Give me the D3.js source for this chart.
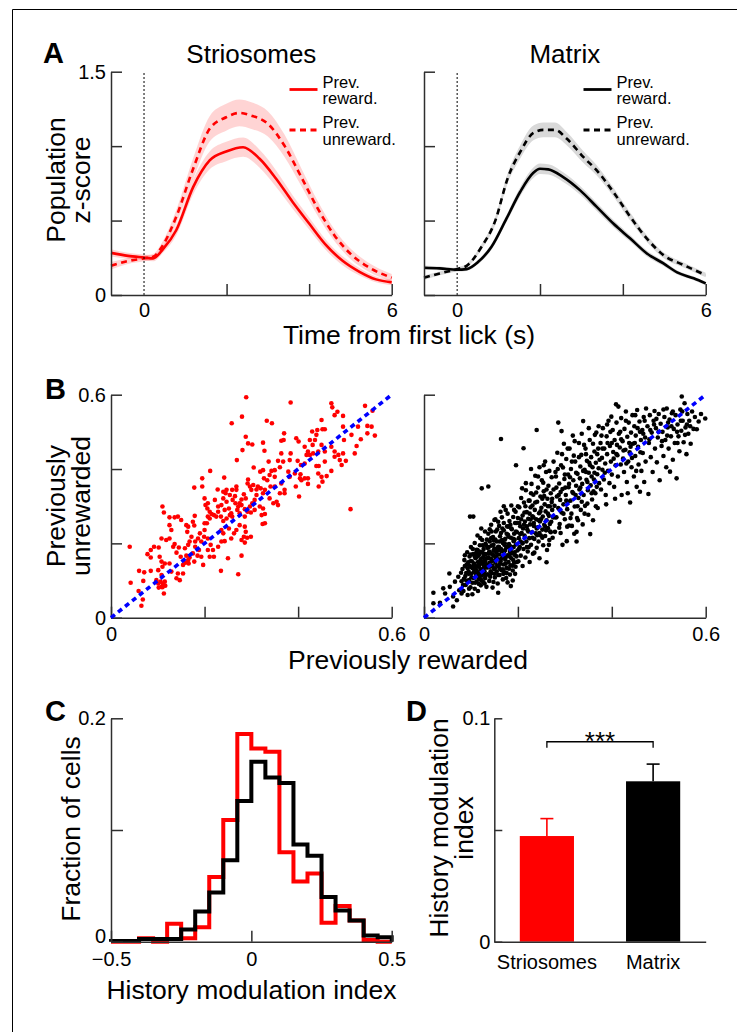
<!DOCTYPE html>
<html>
<head>
<meta charset="utf-8">
<script src="https://cdn.jsdelivr.net/npm/d3@7.9.0/dist/d3.min.js"></script>
<style>
  body { margin: 0; background: #fff; }
  svg { display: block; }
</style>
</head>
<body>
<svg id="fig"></svg>
<script>
// ---------- data ----------
const timeDomain = [-0.8, 6];
const timeTicks = [0, 2, 4, 6];
const zTicks = [0, 0.5, 1, 1.5];

// Striosomes, population z-score
const strioRewT = [-0.8, -0.39, 0, 0.22, 0.46, 0.78, 1.19, 1.59, 1.99, 2.4, 2.8, 3.2, 3.6, 4.0, 4.41, 4.81, 5.22, 5.62, 6.0];
const strioRewMean = [0.283, 0.263, 0.252, 0.246, 0.308, 0.435, 0.725, 0.904, 0.964, 0.993, 0.915, 0.781, 0.625, 0.48, 0.335, 0.23, 0.156, 0.105, 0.085];
const strioRewSem = [0.025, 0.02, 0.02, 0.02, 0.025, 0.035, 0.05, 0.06, 0.065, 0.065, 0.06, 0.055, 0.045, 0.04, 0.035, 0.03, 0.025, 0.02, 0.02];

const strioUnrT = [-0.8, -0.39, 0, 0.22, 0.46, 0.78, 1.19, 1.59, 1.99, 2.31, 2.6, 3.0, 3.4, 3.81, 4.21, 4.61, 5.02, 5.42, 6.0];
const strioUnrMean = [0.196, 0.228, 0.246, 0.257, 0.335, 0.525, 0.848, 1.116, 1.194, 1.223, 1.205, 1.15, 1.004, 0.792, 0.58, 0.402, 0.272, 0.19, 0.116];
const strioUnrSem = [0.025, 0.02, 0.02, 0.02, 0.03, 0.045, 0.07, 0.085, 0.09, 0.09, 0.09, 0.085, 0.075, 0.06, 0.05, 0.04, 0.035, 0.03, 0.025];

// Matrix, population z-score
const matRewT = [-0.8, -0.42, 0, 0.23, 0.51, 0.83, 1.19, 1.52, 1.84, 2.0, 2.2, 2.56, 2.97, 3.37, 3.77, 4.18, 4.58, 4.98, 5.31, 5.71, 6.0];
const matRewMean = [0.183, 0.179, 0.17, 0.174, 0.223, 0.324, 0.513, 0.692, 0.821, 0.848, 0.844, 0.792, 0.703, 0.592, 0.48, 0.379, 0.279, 0.212, 0.152, 0.112, 0.078];
const matRewSem = [0.015, 0.012, 0.012, 0.012, 0.015, 0.02, 0.025, 0.03, 0.035, 0.035, 0.035, 0.033, 0.03, 0.028, 0.025, 0.022, 0.02, 0.017, 0.015, 0.013, 0.012];

const matUnrT = [-0.8, -0.42, 0, 0.23, 0.59, 0.91, 1.23, 1.52, 1.84, 2.08, 2.36, 2.65, 3.05, 3.37, 3.77, 4.18, 4.58, 4.98, 5.47, 6.0];
const matUnrMean = [0.116, 0.145, 0.174, 0.196, 0.324, 0.491, 0.792, 0.96, 1.089, 1.109, 1.109, 1.049, 0.926, 0.837, 0.692, 0.525, 0.379, 0.268, 0.201, 0.134];
const matUnrSem = [0.015, 0.013, 0.013, 0.013, 0.018, 0.025, 0.035, 0.045, 0.05, 0.05, 0.05, 0.045, 0.04, 0.035, 0.03, 0.027, 0.023, 0.02, 0.017, 0.015];

const legendLabels = [["Prev.", "reward."], ["Prev.", "unreward."]];

// B: previously rewarded (x) vs previously unrewarded (y)
const scatterTicks = [0, 0.2, 0.4, 0.6];
const strioScatter = [[0.289,0.593],[0.384,0.579],[0.471,0.577],[0.473,0.566],[0.543,0.570],[0.559,0.557],[0.484,0.554],[0.478,0.545],[0.496,0.543],[0.280,0.541],[0.333,0.530],[0.344,0.523],[0.258,0.523],[0.450,0.532],[0.452,0.507],[0.457,0.507],[0.496,0.514],[0.528,0.514],[0.548,0.516],[0.557,0.514],[0.548,0.496],[0.564,0.490],[0.370,0.496],[0.364,0.476],[0.369,0.478],[0.396,0.483],[0.401,0.474],[0.430,0.501],[0.441,0.505],[0.439,0.492],[0.436,0.478],[0.425,0.478],[0.431,0.465],[0.414,0.460],[0.421,0.447],[0.418,0.438],[0.425,0.438],[0.432,0.442],[0.443,0.447],[0.450,0.465],[0.457,0.447],[0.471,0.460],[0.478,0.447],[0.486,0.438],[0.496,0.442],[0.489,0.424],[0.502,0.422],[0.525,0.462],[0.534,0.480],[0.514,0.492],[0.498,0.478],[0.288,0.487],[0.293,0.469],[0.302,0.466],[0.281,0.451],[0.325,0.471],[0.328,0.449],[0.269,0.424],[0.364,0.442],[0.384,0.442],[0.382,0.424],[0.357,0.422],[0.368,0.420],[0.337,0.420],[0.399,0.422],[0.406,0.411],[0.414,0.415],[0.439,0.408],[0.444,0.408],[0.457,0.420],[0.471,0.395],[0.461,0.381],[0.452,0.366],[0.444,0.353],[0.421,0.360],[0.414,0.375],[0.404,0.375],[0.402,0.326],[0.395,0.353],[0.382,0.379],[0.379,0.393],[0.361,0.405],[0.350,0.397],[0.343,0.395],[0.339,0.384],[0.334,0.370],[0.327,0.375],[0.319,0.393],[0.325,0.397],[0.305,0.404],[0.293,0.372],[0.292,0.361],[0.297,0.353],[0.300,0.344],[0.311,0.345],[0.320,0.348],[0.325,0.335],[0.329,0.344],[0.341,0.353],[0.350,0.353],[0.361,0.335],[0.371,0.335],[0.354,0.312],[0.347,0.308],[0.357,0.303],[0.307,0.317],[0.302,0.308],[0.297,0.299],[0.288,0.321],[0.284,0.332],[0.279,0.318],[0.275,0.308],[0.272,0.299],[0.286,0.292],[0.292,0.285],[0.299,0.283],[0.307,0.290],[0.318,0.299],[0.325,0.294],[0.329,0.279],[0.329,0.254],[0.324,0.252],[0.286,0.272],[0.286,0.245],[0.288,0.231],[0.284,0.218],[0.291,0.215],[0.299,0.218],[0.279,0.209],[0.286,0.202],[0.279,0.167],[0.272,0.117],[0.265,0.327],[0.268,0.353],[0.266,0.308],[0.260,0.317],[0.254,0.330],[0.245,0.335],[0.240,0.321],[0.236,0.303],[0.243,0.290],[0.252,0.294],[0.254,0.276],[0.259,0.272],[0.247,0.267],[0.240,0.260],[0.235,0.272],[0.229,0.285],[0.225,0.272],[0.220,0.276],[0.215,0.279],[0.211,0.267],[0.206,0.294],[0.202,0.303],[0.207,0.308],[0.200,0.321],[0.195,0.353],[0.195,0.375],[0.212,0.395],[0.242,0.377],[0.240,0.339],[0.228,0.345],[0.207,0.272],[0.205,0.254],[0.200,0.236],[0.199,0.218],[0.190,0.227],[0.186,0.213],[0.180,0.205],[0.180,0.191],[0.188,0.182],[0.185,0.167],[0.178,0.151],[0.178,0.248],[0.175,0.258],[0.179,0.274],[0.178,0.350],[0.161,0.249],[0.165,0.245],[0.163,0.231],[0.172,0.218],[0.168,0.205],[0.165,0.196],[0.158,0.187],[0.161,0.167],[0.165,0.155],[0.166,0.146],[0.159,0.148],[0.154,0.142],[0.149,0.164],[0.145,0.189],[0.140,0.175],[0.136,0.198],[0.133,0.191],[0.125,0.213],[0.129,0.236],[0.125,0.249],[0.113,0.283],[0.110,0.299],[0.125,0.270],[0.136,0.270],[0.143,0.272],[0.150,0.263],[0.118,0.209],[0.108,0.213],[0.102,0.189],[0.092,0.191],[0.085,0.182],[0.078,0.171],[0.085,0.162],[0.104,0.164],[0.108,0.151],[0.115,0.146],[0.110,0.137],[0.101,0.128],[0.108,0.115],[0.106,0.097],[0.101,0.092],[0.108,0.083],[0.111,0.091],[0.113,0.065],[0.097,0.101],[0.085,0.126],[0.071,0.122],[0.060,0.126],[0.069,0.099],[0.042,0.094],[0.059,0.072],[0.068,0.049],[0.065,0.032],[0.040,0.191],[0.213,0.196],[0.207,0.182],[0.218,0.182],[0.220,0.164],[0.229,0.191],[0.236,0.205],[0.243,0.206],[0.240,0.227],[0.236,0.236],[0.257,0.213],[0.263,0.227],[0.252,0.240],[0.268,0.236],[0.275,0.249],[0.235,0.126],[0.250,0.160],[0.193,0.164],[0.197,0.142],[0.207,0.213],[0.211,0.164],[0.143,0.119],[0.140,0.106],[0.147,0.101],[0.154,0.119],[0.125,0.146],[0.129,0.124],[0.168,0.162],[0.175,0.173],[0.193,0.205],[0.200,0.254],[0.211,0.285],[0.222,0.317],[0.229,0.299],[0.247,0.312],[0.257,0.281],[0.270,0.290],[0.275,0.281],[0.279,0.303],[0.268,0.344],[0.259,0.344],[0.247,0.344],[0.322,0.276],[0.339,0.321],[0.311,0.330],[0.314,0.353],[0.304,0.357],[0.350,0.379],[0.364,0.361],[0.371,0.344],[0.393,0.388],[0.405,0.386],[0.407,0.370],[0.421,0.375],[0.450,0.379],[0.443,0.388],[0.512,0.292],[0.478,0.433],[0.493,0.411],[0.521,0.442],[0.110,0.082],[0.115,0.097],[0.116,0.086],[0.102,0.081]];

const matrixScatter = [
  [0.020,0.067],[0.020,0.039],[0.041,0.079],[0.054,0.119],[0.062,0.030],[0.034,0.040],[0.045,0.065],[0.055,0.083],[0.066,0.097],[0.062,0.057],[0.073,0.110],[0.075,0.074],[0.070,0.047],[0.080,0.065],
  [0.080,0.098],[0.082,0.131],[0.084,0.072],[0.086,0.155],[0.088,0.112],[0.089,0.088],[0.091,0.143],[0.092,0.176],[0.093,0.061],[0.095,0.124],[0.096,0.101],[0.097,0.165],[0.098,0.139],[0.099,0.082],[0.100,0.190],[0.101,0.118],[0.102,0.152],[0.103,0.094],[0.104,0.133],[0.105,0.171],[0.106,0.107],[0.107,0.146],[0.108,0.078],[0.108,0.201],[0.109,0.126],[0.110,0.160],[0.111,0.115],[0.112,0.183],[0.112,0.097],[0.113,0.138],[0.114,0.221],[0.115,0.150],[0.115,0.072],[0.116,0.122],[0.117,0.169],[0.118,0.104],[0.118,0.141],[0.119,0.195],[0.120,0.131],[0.121,0.087],[0.121,0.158],[0.122,0.176],[0.123,0.113],[0.124,0.147],[0.124,0.209],[0.125,0.128],[0.126,0.096],[0.126,0.163],[0.127,0.185],[0.128,0.119],[0.128,0.140],[0.129,0.154],[0.130,0.106],[0.130,0.232],[0.131,0.171],[0.132,0.135],[0.132,0.195],[0.133,0.083],[0.098,0.272],[0.105,0.272],[0.123,0.348],[0.137,0.353],[0.090,0.120],[0.094,0.149],[0.100,0.170],[0.103,0.063],[0.110,0.138],[0.114,0.182],[0.117,0.091],[0.120,0.214],[0.125,0.175],[0.127,0.150],[0.129,0.124],[0.131,0.199],[0.085,0.105],[0.087,0.139],[0.106,0.123],[0.111,0.174],[0.116,0.138],[0.119,0.116],[0.122,0.240],[0.129,0.092],[0.133,0.160],
  [0.134,0.142],[0.135,0.188],[0.136,0.117],[0.137,0.226],[0.138,0.161],[0.139,0.099],[0.140,0.205],[0.141,0.137],[0.142,0.173],[0.143,0.250],[0.144,0.120],[0.144,0.194],[0.145,0.153],[0.146,0.081],[0.147,0.217],[0.148,0.167],[0.149,0.131],[0.150,0.186],[0.150,0.263],[0.151,0.108],[0.152,0.148],[0.153,0.232],[0.154,0.175],[0.155,0.124],[0.155,0.205],[0.156,0.158],[0.157,0.092],[0.158,0.191],[0.159,0.139],[0.160,0.247],[0.160,0.170],[0.161,0.115],[0.162,0.219],[0.163,0.152],[0.164,0.481],[0.164,0.185],[0.165,0.128],[0.166,0.270],[0.167,0.163],[0.168,0.201],[0.168,0.103],[0.169,0.143],[0.170,0.235],[0.171,0.178],[0.172,0.122],[0.173,0.212],[0.173,0.156],[0.174,0.290],[0.175,0.191],[0.176,0.134],[0.177,0.246],[0.178,0.168],[0.178,0.095],[0.179,0.223],[0.180,0.150],[0.181,0.198],[0.182,0.260],[0.183,0.177],[0.183,0.116],[0.184,0.141],[0.185,0.215],[0.186,0.302],[0.186,0.160],[0.187,0.238],[0.188,0.189],[0.189,0.127],[0.189,0.100],[0.190,0.271],[0.191,0.206],[0.192,0.148],[0.192,0.226],[0.193,0.176],[0.194,0.255],[0.195,0.137],[0.196,0.197],[0.196,0.410],[0.197,0.165],[0.158,0.067],[0.136,0.160],[0.139,0.178],[0.141,0.110],[0.143,0.214],[0.146,0.170],[0.148,0.196],[0.151,0.133],[0.153,0.159],[0.156,0.237],[0.159,0.182],[0.161,0.132],[0.164,0.158],[0.166,0.209],[0.169,0.118],[0.171,0.196],[0.174,0.145],[0.176,0.226],[0.179,0.190],[0.181,0.132],[0.184,0.250],[0.187,0.173],[0.190,0.155],[0.193,0.210],[0.195,0.285],[0.140,0.238],[0.152,0.265],[0.163,0.285],[0.175,0.107],[0.185,0.085],[0.194,0.118],[0.170,0.300],[0.148,0.096],[0.158,0.115],
  [0.198,0.230],[0.199,0.181],[0.200,0.268],[0.201,0.152],[0.202,0.214],[0.203,0.297],[0.204,0.190],[0.205,0.246],[0.206,0.167],[0.207,0.322],[0.208,0.228],[0.209,0.201],[0.210,0.139],[0.210,0.275],[0.211,0.240],[0.212,0.456],[0.212,0.185],[0.213,0.310],[0.214,0.221],[0.215,0.259],[0.216,0.162],[0.217,0.343],[0.218,0.205],[0.219,0.284],[0.220,0.237],[0.221,0.178],[0.222,0.266],[0.223,0.315],[0.224,0.214],[0.225,0.150],[0.226,0.251],[0.227,0.297],[0.228,0.196],[0.229,0.360],[0.230,0.230],[0.231,0.273],[0.232,0.172],[0.233,0.331],[0.234,0.247],[0.235,0.212],[0.236,0.290],[0.237,0.382],[0.238,0.227],[0.239,0.265],[0.240,0.505],[0.240,0.188],[0.241,0.312],[0.242,0.243],[0.243,0.350],[0.244,0.205],[0.245,0.281],[0.246,0.160],[0.247,0.259],[0.248,0.326],[0.249,0.221],[0.250,0.296],[0.251,0.370],[0.252,0.237],[0.253,0.272],[0.254,0.195],[0.255,0.340],[0.256,0.250],[0.257,0.305],[0.258,0.220],[0.259,0.286],[0.260,0.392],[0.261,0.262],[0.262,0.182],[0.263,0.320],[0.264,0.241],[0.265,0.355],[0.266,0.274],[0.267,0.209],[0.268,0.300],[0.269,0.232],[0.270,0.335],[0.271,0.258],[0.272,0.378],[0.273,0.290],[0.274,0.215],[0.261,0.149],[0.203,0.255],[0.206,0.205],[0.214,0.283],[0.219,0.246],[0.223,0.190],[0.227,0.264],[0.231,0.302],[0.235,0.175],[0.239,0.337],[0.244,0.262],[0.248,0.286],[0.252,0.215],[0.256,0.327],[0.260,0.235],[0.264,0.300],[0.268,0.252],[0.272,0.311],[0.217,0.362],[0.228,0.400],[0.246,0.405],[0.258,0.420],[0.209,0.348],[0.225,0.315],[0.233,0.270],[0.241,0.222],[0.254,0.363],[0.266,0.196],[0.275,0.270],
  [0.276,0.345],[0.278,0.301],[0.279,0.231],[0.280,0.392],[0.282,0.270],[0.283,0.326],[0.284,0.444],[0.286,0.525],[0.286,0.295],[0.288,0.361],[0.289,0.252],[0.290,0.317],[0.292,0.410],[0.293,0.283],[0.295,0.196],[0.295,0.346],[0.297,0.305],[0.298,0.468],[0.299,0.373],[0.300,0.265],[0.302,0.330],[0.303,0.427],[0.304,0.206],[0.305,0.292],[0.307,0.385],[0.308,0.351],[0.309,0.248],[0.310,0.455],[0.312,0.315],[0.313,0.400],[0.314,0.280],[0.316,0.338],[0.317,0.490],[0.318,0.370],[0.320,0.226],[0.321,0.299],[0.322,0.420],[0.324,0.355],[0.325,0.205],[0.326,0.268],[0.327,0.387],[0.329,0.322],[0.330,0.470],[0.331,0.345],[0.333,0.407],[0.334,0.290],[0.335,0.438],[0.337,0.360],[0.338,0.251],[0.339,0.529],[0.340,0.330],[0.342,0.398],[0.343,0.301],[0.344,0.455],[0.346,0.371],[0.347,0.422],[0.349,0.343],[0.350,0.277],[0.351,0.390],[0.353,0.478],[0.354,0.225],[0.355,0.356],[0.356,0.432],[0.358,0.318],[0.359,0.405],[0.360,0.262],[0.362,0.372],[0.363,0.447],[0.365,0.335],[0.366,0.417],[0.367,0.498],[0.369,0.386],[0.370,0.295],[0.371,0.455],[0.373,0.362],[0.374,0.425],[0.281,0.380],[0.287,0.330],[0.291,0.228],[0.296,0.404],[0.301,0.350],[0.306,0.312],[0.311,0.378],[0.315,0.247],[0.319,0.436],[0.323,0.330],[0.328,0.262],[0.332,0.375],[0.336,0.312],[0.341,0.465],[0.345,0.392],[0.348,0.307],[0.352,0.417],[0.357,0.380],[0.361,0.340],[0.364,0.492],[0.368,0.352],[0.372,0.402],[0.325,0.231],[0.305,0.245],[0.293,0.502],
  [0.376,0.470],[0.377,0.345],[0.379,0.430],[0.380,0.398],[0.381,0.510],[0.383,0.372],[0.384,0.455],[0.386,0.415],[0.387,0.330],[0.389,0.488],[0.390,0.440],[0.392,0.395],[0.393,0.530],[0.395,0.362],[0.396,0.462],[0.398,0.420],[0.399,0.541],[0.400,0.385],[0.402,0.505],[0.403,0.446],[0.405,0.352],[0.406,0.478],[0.408,0.410],[0.409,0.574],[0.410,0.525],[0.412,0.437],[0.413,0.380],[0.414,0.568],[0.415,0.495],[0.416,0.258],[0.417,0.458],[0.419,0.412],[0.420,0.537],[0.421,0.330],[0.423,0.475],[0.424,0.428],[0.426,0.392],[0.427,0.508],[0.429,0.452],[0.430,0.555],[0.432,0.365],[0.433,0.487],[0.435,0.420],[0.436,0.525],[0.438,0.445],[0.439,0.310],[0.441,0.498],[0.442,0.405],[0.444,0.545],[0.445,0.468],[0.447,0.380],[0.448,0.515],[0.450,0.435],[0.451,0.490],[0.453,0.352],[0.454,0.559],[0.456,0.460],[0.457,0.412],[0.459,0.528],[0.460,0.339],[0.462,0.478],[0.463,0.395],[0.465,0.505],[0.466,0.443],[0.468,0.540],[0.469,0.365],[0.471,0.485],[0.472,0.420],[0.473,0.563],[0.378,0.490],[0.385,0.390],[0.391,0.470],[0.397,0.500],[0.404,0.428],[0.411,0.465],[0.418,0.500],[0.425,0.450],[0.431,0.415],[0.437,0.470],[0.443,0.430],[0.449,0.470],[0.455,0.510],[0.461,0.445],[0.467,0.495],[0.434,0.335],[0.407,0.320],[0.388,0.305],[0.452,0.395],
  [0.476,0.515],[0.478,0.333],[0.479,0.470],[0.481,0.545],[0.483,0.432],[0.485,0.498],[0.487,0.392],[0.489,0.530],[0.491,0.556],[0.492,0.455],[0.494,0.510],[0.496,0.418],[0.498,0.485],[0.500,0.548],[0.502,0.370],[0.504,0.522],[0.506,0.462],[0.508,0.500],[0.510,0.435],[0.512,0.540],[0.514,0.478],[0.516,0.405],[0.517,0.563],[0.519,0.512],[0.521,0.455],[0.523,0.533],[0.524,0.393],[0.526,0.488],[0.528,0.550],[0.530,0.425],[0.532,0.508],[0.534,0.470],[0.536,0.545],[0.538,0.375],[0.540,0.520],[0.542,0.488],[0.544,0.448],[0.546,0.560],[0.548,0.503],[0.549,0.595],[0.551,0.530],[0.553,0.472],[0.555,0.577],[0.557,0.512],[0.559,0.440],[0.561,0.548],[0.563,0.495],[0.565,0.530],[0.568,0.468],[0.571,0.555],[0.574,0.508],[0.577,0.540],[0.581,0.507],[0.585,0.528],[0.590,0.548],[0.599,0.536],[0.482,0.505],[0.495,0.535],[0.507,0.475],[0.518,0.490],[0.527,0.515],[0.539,0.500],[0.547,0.530],[0.556,0.492],[0.567,0.515],
  [0.079,0.121],[0.083,0.088],[0.087,0.168],[0.090,0.100],[0.093,0.133],[0.096,0.078],[0.099,0.152],[0.101,0.108],[0.104,0.185],[0.106,0.140],[0.109,0.094],[0.111,0.128],[0.113,0.165],[0.116,0.107],[0.118,0.178],[0.120,0.146],[0.122,0.101],[0.125,0.195],[0.127,0.133],[0.129,0.170],[0.131,0.112],[0.134,0.210],[0.136,0.135],[0.138,0.190],[0.140,0.148],[0.142,0.125],[0.144,0.232],[0.146,0.140],[0.148,0.180],[0.150,0.118],[0.152,0.210],[0.154,0.165],[0.156,0.140],[0.158,0.258],[0.160,0.190],[0.162,0.145],[0.164,0.228],[0.166,0.178],[0.168,0.130],[0.170,0.255],[0.172,0.200],[0.174,0.162],[0.176,0.120],[0.178,0.280],[0.180,0.218],[0.182,0.165],[0.184,0.192],[0.186,0.240],[0.188,0.140],[0.190,0.212],[0.192,0.290],[0.194,0.168],[0.196,0.232],[0.198,0.150],[0.200,0.300],[0.202,0.185],[0.205,0.225],[0.207,0.265],[0.210,0.200],[0.213,0.250],[0.216,0.300],[0.219,0.190],[0.222,0.232],[0.225,0.280],[0.228,0.335],[0.231,0.215],[0.234,0.255],[0.237,0.310],[0.240,0.240],[0.243,0.380],[0.246,0.228],[0.249,0.265],[0.252,0.320],[0.255,0.410],[0.258,0.245],[0.261,0.345],[0.264,0.280],[0.267,0.395],[0.270,0.230],[0.273,0.320],[0.276,0.420],[0.279,0.270],[0.282,0.350],[0.285,0.400],[0.288,0.242],[0.291,0.338],[0.294,0.440],[0.297,0.280],[0.300,0.385],[0.303,0.315],[0.306,0.455],[0.309,0.360],[0.312,0.268],[0.315,0.420],[0.318,0.335],[0.321,0.475],[0.324,0.390],[0.327,0.300],[0.330,0.432],[0.333,0.350],[0.336,0.495],[0.339,0.395],[0.342,0.280],[0.345,0.440],[0.348,0.365],[0.351,0.510],[0.354,0.410],[0.357,0.335],[0.360,0.468],[0.363,0.390],[0.366,0.300],[0.369,0.440],[0.372,0.515],[0.380,0.455],[0.390,0.520],[0.400,0.470],[0.410,0.440],[0.420,0.480],[0.430,0.530],[0.440,0.460],[0.450,0.545],[0.460,0.500],[0.470,0.530],[0.480,0.480],[0.490,0.520],[0.500,0.500],[0.510,0.560],[0.520,0.525],[0.530,0.555],[0.540,0.470],[0.550,0.555],[0.560,0.520],
  [0.095,0.118],[0.102,0.135],[0.108,0.165],[0.114,0.118],[0.119,0.152],[0.124,0.118],[0.131,0.150],[0.137,0.172],[0.143,0.158],[0.149,0.208],[0.155,0.185],[0.161,0.205],[0.167,0.240],[0.173,0.182],[0.179,0.245],[0.185,0.178],[0.191,0.190],[0.197,0.255]
];

// C: histogram of history modulation index
const histEdges = [-0.5, -0.45, -0.4, -0.35, -0.3, -0.25, -0.2, -0.15, -0.1, -0.05, 0, 0.05, 0.1, 0.15, 0.2, 0.25, 0.3, 0.35, 0.4, 0.45, 0.5];
const strioHist = [0, 0, 0.003, 0, 0.016, 0.003, 0.013, 0.058, 0.109, 0.186, 0.173, 0.170, 0.080, 0.054, 0.061, 0.017, 0.032, 0.019, 0.0015, 0];
const matrixHist = [0.0006, 0.0006, 0.0025, 0.0025, 0.0025, 0.011, 0.027, 0.044, 0.073, 0.126, 0.161, 0.147, 0.142, 0.087, 0.077, 0.040, 0.028, 0.019, 0.0055, 0.004];

// D: mean history modulation index
const groups = ["Striosomes", "Matrix"];
const groupMeans = [0.0473, 0.0718];
const groupSems = [0.0078, 0.0077];
const groupColors = ["#ff0000", "#000000"];

// ---------- drawing ----------
const FONT = '"Liberation Sans", Arial, Helvetica, sans-serif';
const AXIS = "#2e2e2e";

const svg = d3.select("#fig").attr("width", 737).attr("height", 1032);
svg.append("rect").attr("width", 737).attr("height", 1032).attr("fill", "#fff");

// partial frame of the figure
svg.append("path").attr("d", "M12.5,1032V9.5H737").attr("fill", "none").attr("stroke", "#000").attr("stroke-width", 1);

function styleAxis(g, fontSize) {
  g.select(".domain").attr("stroke", AXIS).attr("stroke-width", 1.5);
  g.selectAll(".tick line").attr("stroke", AXIS).attr("stroke-width", 1.5);
  g.selectAll(".tick text").attr("fill", "#000").style("font-family", FONT).style("font-size", fontSize + "px");
}

function addText(x, y, str, size, opts = {}) {
  const t = svg.append("text")
    .attr("x", x).attr("y", y)
    .attr("text-anchor", opts.anchor || "middle")
    .style("font-family", FONT)
    .style("font-size", size + "px")
    .style("font-weight", opts.bold ? "bold" : "normal")
    .attr("fill", "#000")
    .text(str);
  if (opts.rotate) t.attr("transform", `rotate(-90, ${x}, ${y})`);
  return t;
}

function zipSeries(t, m, s) {
  return t.map((d, i) => ({ t: d, m: m[i], s: s[i] }));
}

function drawTimePanel(cfg) {
  const x = d3.scaleLinear().domain(timeDomain).range([cfg.left, cfg.right]);
  const y = d3.scaleLinear().domain([0, 1.5]).range([cfg.bottom, cfg.top]);
  const g = svg.append("g");

  const area = d3.area().curve(d3.curveMonotoneX)
    .x(d => x(d.t)).y0(d => y(d.m - d.s)).y1(d => y(d.m + d.s));
  const line = d3.line().curve(d3.curveMonotoneX)
    .x(d => x(d.t)).y(d => y(d.m));

  cfg.series.forEach(s => {
    g.append("path").datum(s.data).attr("d", area)
      .attr("fill", cfg.color).attr("fill-opacity", cfg.bandOpacity);
  });
  cfg.series.forEach(s => {
    g.append("path").datum(s.data).attr("d", line)
      .attr("fill", "none").attr("stroke", cfg.color).attr("stroke-width", 2.6)
      .attr("stroke-dasharray", s.dash ? "6,4.5" : null);
  });

  // dotted line at first lick
  g.append("line")
    .attr("x1", x(0)).attr("x2", x(0)).attr("y1", y(0)).attr("y2", y(1.5))
    .attr("stroke", "#000").attr("stroke-width", 1).attr("stroke-dasharray", "2,2");

  const ya = g.append("g").attr("transform", `translate(${cfg.left},0)`)
    .call(d3.axisLeft(y).tickValues(zTicks).tickSize(-11).tickSizeOuter(0).tickPadding(5)
      .tickFormat(d => cfg.yLabels ? (d === 0 ? "0" : d === 1.5 ? "1.5" : "") : ""));
  styleAxis(ya, 20);

  const xa = g.append("g").attr("transform", `translate(0,${cfg.bottom})`)
    .call(d3.axisBottom(x).tickValues(timeTicks).tickSize(-11).tickSizeOuter(0).tickPadding(8)
      .tickFormat(d => (d === 0 || d === 6) ? String(d) : ""));
  styleAxis(xa, 20);
  xa.selectAll(".tick line").filter(d => d === 0).attr("stroke-opacity", 0);

  addText((cfg.left + cfg.right) / 2, 63, cfg.title, 26);

  // legend
  cfg.series.forEach((s, i) => {
    const ly = cfg.legendY[i];
    g.append("line").attr("x1", cfg.legendX).attr("x2", cfg.legendX + 28)
      .attr("y1", ly).attr("y2", ly)
      .attr("stroke", cfg.color).attr("stroke-width", 2.8)
      .attr("stroke-dasharray", s.dash ? "6,4.5" : null);
    addText(cfg.legendX + 33, ly - 2, legendLabels[i][0], 16.5, { anchor: "start" });
    addText(cfg.legendX + 33, ly + 14.5, legendLabels[i][1], 16.5, { anchor: "start" });
  });
}

drawTimePanel({
  left: 111, right: 391.7, top: 71.7, bottom: 295, color: "#ff0000", bandOpacity: 0.17,
  title: "Striosomes", yLabels: true, legendX: 289.5, legendY: [89.5, 130],
  series: [
    { data: zipSeries(strioRewT, strioRewMean, strioRewSem), dash: false },
    { data: zipSeries(strioUnrT, strioUnrMean, strioUnrSem), dash: true }
  ]
});
drawTimePanel({
  left: 424, right: 705.7, top: 71.7, bottom: 295, color: "#000000", bandOpacity: 0.15,
  title: "Matrix", yLabels: false, legendX: 583.5, legendY: [89.5, 130],
  series: [
    { data: zipSeries(matRewT, matRewMean, matRewSem), dash: false },
    { data: zipSeries(matUnrT, matUnrMean, matUnrSem), dash: true }
  ]
});

addText(65, 180, "Population", 26.5, { rotate: true });
addText(90, 180, "z-score", 26.5, { rotate: true });
addText(409, 343.5, "Time from first lick (s)", 26.5);

// ---- B: scatter ----
function drawScatter(cfg) {
  const x = d3.scaleLinear().domain([0, 0.6]).range([cfg.left, cfg.right]);
  const y = d3.scaleLinear().domain([0, 0.6]).range([cfg.bottom, cfg.top]);
  const g = svg.append("g");

  g.selectAll("circle").data(cfg.points).enter().append("circle")
    .attr("cx", d => x(d[0])).attr("cy", d => y(d[1])).attr("r", 2.3)
    .attr("fill", cfg.color);

  const ya = g.append("g").attr("transform", `translate(${cfg.left},0)`)
    .call(d3.axisLeft(y).tickValues(scatterTicks).tickSize(-11).tickSizeOuter(0).tickPadding(5)
      .tickFormat(d => cfg.yLabels ? (d === 0 ? "0" : d === 0.6 ? "0.6" : "") : ""));
  styleAxis(ya, 20);
  const xa = g.append("g").attr("transform", `translate(0,${cfg.bottom})`)
    .call(d3.axisBottom(x).tickValues(scatterTicks).tickSize(-11).tickSizeOuter(0).tickPadding(9)
      .tickFormat(d => d === 0 ? "0" : d === 0.6 ? "0.6" : ""));
  styleAxis(xa, 20);

  // unity line
  g.append("line")
    .attr("x1", x(0)).attr("y1", y(0)).attr("x2", x(0.6)).attr("y2", y(0.6))
    .attr("stroke", "#0000ff").attr("stroke-width", 3.6).attr("stroke-dasharray", "5,4");
}

drawScatter({ left: 111, right: 391.7, top: 394.7, bottom: 617.7, color: "#ff0000", points: strioScatter, yLabels: true });
drawScatter({ left: 424, right: 705.7, top: 394.7, bottom: 617.7, color: "#000000", points: matrixScatter, yLabels: false });

addText(65, 506, "Previously", 26.5, { rotate: true });
addText(90, 506, "unrewarded", 26.5, { rotate: true });
addText(408, 668.5, "Previously rewarded", 26.5);

// ---- C: histogram ----
{
  const x = d3.scaleLinear().domain([-0.5, 0.5]).range([111, 391.7]);
  const y = d3.scaleLinear().domain([0, 0.2]).range([941.7, 718.3]);
  const g = svg.append("g");
  const step = d3.line().curve(d3.curveStepAfter).x(d => x(d[0])).y(d => y(d[1]));
  const outline = h => [[histEdges[0], 0]]
    .concat(h.map((v, i) => [histEdges[i], v]))
    .concat([[histEdges[histEdges.length - 1], h[h.length - 1]], [histEdges[histEdges.length - 1], 0]]);

  g.append("path").datum(outline(strioHist)).attr("d", step)
    .attr("fill", "none").attr("stroke", "#ff0000").attr("stroke-width", 4);
  g.append("path").datum(outline(matrixHist)).attr("d", step)
    .attr("fill", "none").attr("stroke", "#000000").attr("stroke-width", 4);

  const ya = g.append("g").attr("transform", "translate(111,0)")
    .call(d3.axisLeft(y).tickValues([0, 0.1, 0.2]).tickSize(-12).tickSizeOuter(0).tickPadding(5)
      .tickFormat(d => d === 0 ? "0" : d === 0.2 ? "0.2" : ""));
  styleAxis(ya, 20);
  ya.selectAll(".tick text").filter(d => d === 0).attr("dy", "0.05em");
  const xa = g.append("g").attr("transform", "translate(0,941.7)")
    .call(d3.axisBottom(x).tickValues([-0.5, 0, 0.5]).tickSize(-11).tickSizeOuter(0).tickPadding(10)
      .tickFormat(d => d < 0 ? "\u22120.5" : d === 0 ? "0" : "0.5"));
  styleAxis(xa, 20);

  addText(80, 829, "Fraction of cells", 26.5, { rotate: true });
  addText(251.5, 999, "History modulation index", 26.5);
}

// ---- D: bars ----
{
  const x = d3.scaleBand().domain(groups).range([494.3, 705.7]).paddingInner(0.49).paddingOuter(0.24);
  const y = d3.scaleLinear().domain([0, 0.1]).range([941.7, 718.3]);
  const g = svg.append("g");

  groups.forEach((k, i) => {
    const cx = x(k) + x.bandwidth() / 2;
    g.append("line").attr("x1", cx).attr("x2", cx)
      .attr("y1", y(groupMeans[i])).attr("y2", y(groupMeans[i] + groupSems[i]))
      .attr("stroke", groupColors[i]).attr("stroke-width", 1.6);
    g.append("line").attr("x1", cx - 6.5).attr("x2", cx + 6.5)
      .attr("y1", y(groupMeans[i] + groupSems[i])).attr("y2", y(groupMeans[i] + groupSems[i]))
      .attr("stroke", groupColors[i]).attr("stroke-width", 1.6);
    g.append("rect").attr("x", x(k)).attr("width", x.bandwidth())
      .attr("y", y(groupMeans[i])).attr("height", y(0) - y(groupMeans[i]))
      .attr("fill", groupColors[i]);
  });

  const ya = g.append("g").attr("transform", "translate(494.3,0)")
    .call(d3.axisLeft(y).tickValues([0, 0.05, 0.1]).tickSize(-8).tickSizeOuter(0).tickPadding(4)
      .tickFormat(d => d === 0 ? "0" : d === 0.1 ? "0.1" : ""));
  styleAxis(ya, 20);
  const xa = g.append("g").attr("transform", "translate(0,941.7)")
    .call(d3.axisBottom(x).tickSize(0).tickSizeOuter(0).tickPadding(13));
  styleAxis(xa, 20);

  // significance bracket
  const c0 = x(groups[0]) + x.bandwidth() / 2, c1 = x(groups[1]) + x.bandwidth() / 2;
  const by = y(0.0895);
  g.append("path").attr("d", `M${c0},${by + 6}V${by}H${c1}V${by + 6}`)
    .attr("fill", "none").attr("stroke", "#000").attr("stroke-width", 1.3);
  addText((c0 + c1) / 2, by + 8, "***", 26);

  addText(448, 828, "History modulation", 26.5, { rotate: true });
  addText(473, 828, "index", 26.5, { rotate: true });
}

// panel letters
addText(43, 63, "A", 29, { anchor: "start", bold: true });
addText(45, 399, "B", 29, { anchor: "start", bold: true });
addText(45, 721, "C", 29, { anchor: "start", bold: true });
addText(406, 721, "D", 29, { anchor: "start", bold: true });
</script>
</body>
</html>
